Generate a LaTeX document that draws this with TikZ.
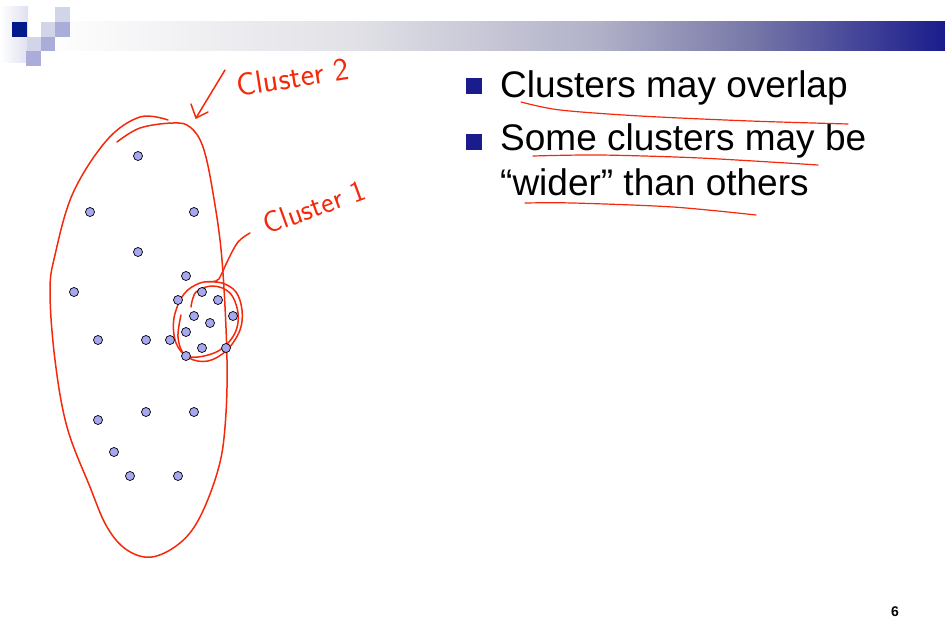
\documentclass[tikz,border=0pt]{standalone}
\usepackage{fontspec}
\setmainfont{Liberation Sans}
\definecolor{navy}{RGB}{26,28,140}
\definecolor{sqdark}{RGB}{0,26,140}
\definecolor{sqlight}{RGB}{210,212,232}
\definecolor{sqmid}{RGB}{170,172,218}
\definecolor{barA}{RGB}{224,224,230}
\definecolor{barB}{RGB}{176,176,200}
\definecolor{barC}{RGB}{120,120,168}
\definecolor{pen}{RGB}{245,40,10}
\definecolor{dotfill}{RGB}{166,168,242}
\begin{document}
\begin{tikzpicture}[x=1pt,y=-1pt,
  dot/.style={circle,draw=black,line width=0.7pt,fill=dotfill,inner sep=0pt,minimum size=9pt},
  ink/.style={draw=pen,line width=1.5pt,line cap=round,line join=round},
  hand/.style={text=pen,font=\sffamily\fontsize{32}{32}\selectfont,inner sep=0pt},
  bullet/.style={fill=navy,minimum size=16pt,inner sep=0pt},
  btext/.style={anchor=base west,inner sep=0pt,font=\fontsize{37}{44}\selectfont}]
\useasboundingbox (0,0) rectangle (945,618);
% header
\shade[left color=white,right color=sqlight!70] (0,7) rectangle (28,63);
\shade[left color=white,right color=barA] (40,22) rectangle (360.5,51);
\shade[left color=barA,right color=barB] (360,22) rectangle (600.5,51);
\shade[left color=barB,right color=barC] (600,22) rectangle (750.5,51);
\shade[left color=barC,right color=navy] (750,22) rectangle (945,51);
\fill[sqlight] (55,7) rectangle (70,22);
\fill[sqdark] (12,22) rectangle (27,37);
\fill[sqlight] (41,22) rectangle (55,37);
\fill[sqmid] (55,22) rectangle (70,37);
\fill[sqlight] (27,37) rectangle (41,51);
\fill[sqmid] (41,37) rectangle (55,51);
\fill[sqmid] (26,51) rectangle (41,66);
% cluster 2 outline
\draw[ink] plot[smooth,tension=0.6] coordinates {(168,120) (140,117) (107,140) (73,193) (55,255) (50,292) (55,360) (67,427) (90,487) (107,527) (127,550) (152,557) (180,543) (200,517) (218,470) (225,427) (227,360) (222,260) (213,193) (203,147) (190,127) (173,123) (140,128) (117,142)};
% cluster 1 scribble
\draw[ink] plot[smooth,tension=0.6] coordinates {(250,233) (238,242) (228,260) (221,275) (216,281) (200,283) (184,294) (174,318) (176,343) (189,358) (208,361) (227,350) (240,330) (242,310) (236,292) (222,283) (205,282)};
\draw[ink] plot[smooth,tension=0.6] coordinates {(191,307) (196,292) (213,286) (230,293) (238,313) (235,333) (220,350) (198,357) (184,354) (178,337) (181,315)};
% arrow for cluster 2
\coordinate (a1) at (225,70);
\coordinate (a2) at (196,118);
\draw[ink] (a1) -- (a2);
\draw[ink] (191,104) -- (a2) -- (208,112);
% labels
\node[hand,rotate=9] (c2) at (293,77) {Cluster 2};
\node[hand,rotate=20,font=\sffamily\fontsize{30}{30}\selectfont] (c1) at (314,207) {Cluster 1};
% dots
\foreach \x/\y [count=\i] in {138/156,90/212,194/212,138/252,186/276,74/292,202/292,178/300,218/300,194/316,233/316,210/323,186/332,98/340,146/340,170/340,202/348,226/348,186/356,98/420,146/412,194/412,114/452,130/476,178/476}
  \node[dot] (d\i) at (\x,\y) {};
% bullets
\node[bullet] (b1) at (474,86) {};
\node[bullet] (b2) at (474,142) {};
\node[btext] (t1) at (500,97) {Clusters may overlap};
\node[btext] (t2) at (500,150) {Some clusters may be};
\node[btext] (t3) at (500,195) {“wider” than others};
% underlines
\draw[ink,line width=1.2pt] plot[smooth] coordinates {(521,102) (560,110) (640,116) (750,121) (848,124)};
\draw[ink,line width=1.2pt] plot[smooth] coordinates {(533,156) (600,155) (700,158) (818,165)};
\draw[ink,line width=1.2pt] plot[smooth] coordinates {(525,203) (573,203) (673,207) (756,215)};
% page number
\node[anchor=base,font=\bfseries\fontsize{14}{14}\selectfont,inner sep=0pt] (pn) at (895,616) {6};
\end{tikzpicture}
\end{document}
